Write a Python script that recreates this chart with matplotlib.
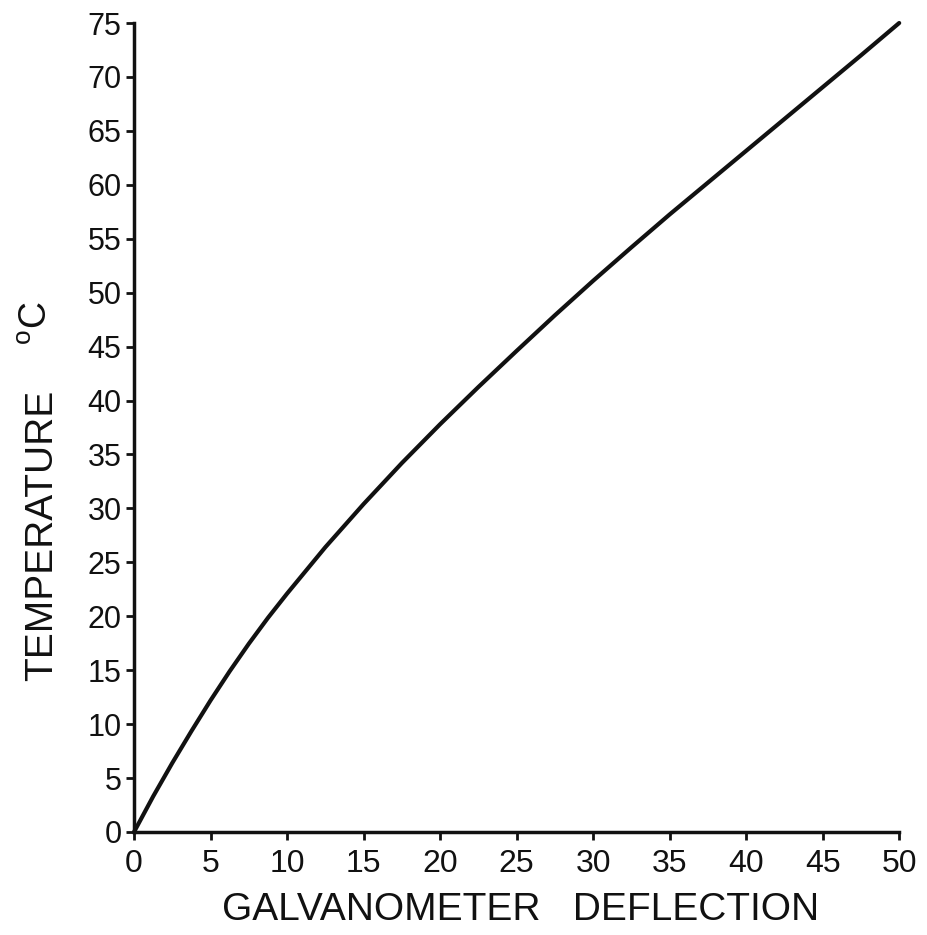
import matplotlib
matplotlib.use("Agg")
import matplotlib.pyplot as plt

# calibration curve: galvanometer deflection vs temperature
deflection = [0, 1.25, 2.5, 3.75, 5, 6.25, 7.5, 8.75, 10, 12.5, 15, 17.5, 20, 22.5,
              25, 27.5, 30, 32.5, 35, 37.5, 40, 42.5, 45, 47.5, 50]
temperature = [0, 3.3, 6.4, 9.35, 12.2, 14.9, 17.45, 19.85, 22.1, 26.4, 30.4, 34.2, 37.8, 41.25,
               44.6, 47.9, 51.1, 54.2, 57.25, 60.2, 63.15, 66.1, 69.05, 72.0, 75.0]

x_ticks = list(range(0, 51, 5))
y_ticks = list(range(0, 76, 5))

narrow = ['Liberation Sans Narrow', 'Liberation Sans', 'DejaVu Sans']
plain = ['Liberation Sans', 'DejaVu Sans']
plt.rcParams['mathtext.fontset'] = 'custom'
plt.rcParams['mathtext.rm'] = 'Liberation Sans'

fig = plt.figure(figsize=(9.27, 9.35), dpi=100)
ax = fig.add_axes([0.1446, 0.1102, 0.8254, 0.8652])

ax.plot(deflection, temperature, color='#111111', lw=3.0,
        solid_capstyle='round', solid_joinstyle='round', clip_on=False)

ax.set_xlim(0, 50)
ax.set_ylim(0, 75)
ax.set_xticks(x_ticks)
ax.set_yticks(y_ticks)
ax.set_xticklabels([str(v) for v in x_ticks], family=narrow, fontsize=23)
ax.set_yticklabels([str(v) for v in y_ticks], family=narrow, fontsize=22)

for side in ['top', 'right']:
    ax.spines[side].set_visible(False)
for side in ['left', 'bottom']:
    ax.spines[side].set_linewidth(2.5)
    ax.spines[side].set_color('#111111')

ax.tick_params(axis='y', direction='out', length=6, width=2, pad=3, colors='#111111')
ax.tick_params(axis='x', direction='out', length=6, width=2, pad=6, colors='#111111')

fig.text(521 / 927, 1 - 910 / 935, 'GALVANOMETER   DEFLECTION', family=plain,
         fontsize=28, ha='center', va='center', color='#111111')
fig.text(42 / 927, 1 - 535 / 935, 'TEMPERATURE', family=plain, fontsize=28,
         rotation=90, ha='center', va='center', color='#111111')
fig.text(37 / 927, 1 - 323 / 935, r'$^{\mathrm{o}}$C', family=plain, fontsize=27,
         rotation=90, ha='center', va='center', color='#111111')

fig.savefig('out.png', dpi=100)
